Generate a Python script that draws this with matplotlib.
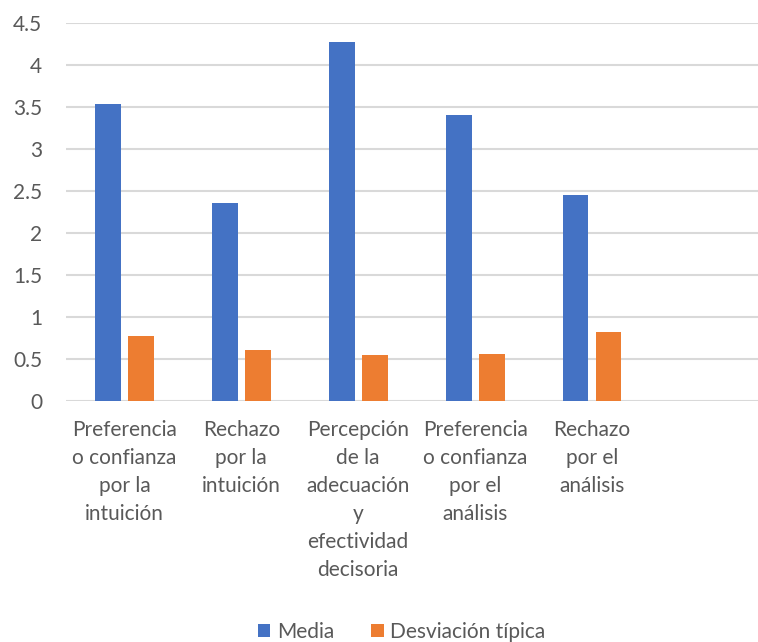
import numpy as np
import matplotlib.pyplot as plt

plt.rcParams['font.family'] = ['Lato', 'DejaVu Sans']

categories = [
    "Preferencia\no confianza\npor la\nintuición",
    "Rechazo\npor la\nintuición",
    "Percepción\nde la\nadecuación\ny\nefectividad\ndecisoria",
    "Preferencia\no confianza\npor el\nanálisis",
    "Rechazo\npor el\nanálisis",
    "",
]
media = [3.54, 2.36, 4.28, 3.41, 2.45, np.nan]
desviacion = [0.77, 0.60, 0.54, 0.56, 0.82, np.nan]
yticks = [0, 0.5, 1, 1.5, 2, 2.5, 3, 3.5, 4, 4.5]

blue = "#4472C4"
orange = "#ED7D31"
grey = "#595959"

fig = plt.figure(figsize=(7.58, 6.42), dpi=100)
ax = fig.add_axes([0.087, 0.376, 0.913, 0.588])

x = np.arange(len(categories))
w = 0.222
ax.bar(x - 0.141, media, w, color=blue, label="Media", zorder=3)
ax.bar(x + 0.141, desviacion, w, color=orange, label="Desviación típica", zorder=3)

ax.set_xlim(-0.5, 5.42)
ax.set_ylim(0, 4.5)
ax.set_yticks(yticks)
ax.set_yticklabels([f"{v:g}" for v in yticks], fontsize=15, color=grey)
ax.set_xticks(x)
ax.set_xticklabels(categories, fontsize=15, color=grey, linespacing=1.5)
ax.tick_params(axis='both', length=0)
ax.tick_params(axis='y', pad=17)
ax.tick_params(axis='x', pad=14)
ax.grid(axis='y', color="#D9D9D9", linewidth=1.5, zorder=0)
for s in ax.spines.values():
    s.set_visible(False)

fig.legend(loc="center", bbox_to_anchor=(0.53, 0.016), ncol=2, frameon=False,
           fontsize=15, handlelength=0.6, handleheight=0.6, handletextpad=0.3,
           columnspacing=1.8, labelcolor=grey)

fig.savefig("out.png", dpi=100)
